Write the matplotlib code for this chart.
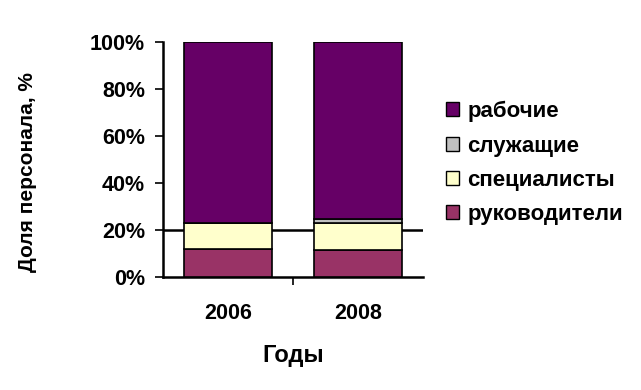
import matplotlib.pyplot as plt
import numpy as np
from matplotlib.patches import Patch
from matplotlib.transforms import Bbox, TransformedBbox

years = ["2006", "2008"]
series = ["руководители", "специалисты", "служащие", "рабочие"]
rukovod = [11.9, 11.4]
spec = [11.2, 11.4]
sluzh = [0.0, 1.7]
rabochie = [76.9, 75.5]
colors = ["#993366", "#FFFFCC", "#C0C0C0", "#660066"]
yticks = [0, 20, 40, 60, 80, 100]

plt.rcParams["font.family"] = ["Liberation Sans", "DejaVu Sans"]

fig = plt.figure(figsize=(6.41, 3.90), dpi=100)
ax = fig.add_axes([163 / 641, 1 - 277 / 390, 260 / 641, 235 / 390])

x = np.arange(len(years))
bottom = np.zeros(len(years))
for vals, c, name in zip([rukovod, spec, sluzh, rabochie], colors, series):
    ax.bar(x, vals, 0.67, bottom=bottom, color=c, edgecolor="black",
           linewidth=1.2, label=name, zorder=3)
    bottom += np.array(vals)

ax.axhline(20, color="black", linewidth=1.8, zorder=2)

ax.set_xlim(-0.5, 1.5)
ax.set_ylim(0, 100)
ax.set_yticks(yticks)
ax.set_yticklabels([f"{v}%" for v in yticks], fontsize=15.5, fontweight="bold")
ax.set_xticks([0.5])
ax.set_xticklabels([""])
ax.set_xticks(x, minor=True)
ax.set_xticklabels(years, minor=True, fontsize=15.5, fontweight="bold")
ax.tick_params(axis="x", which="minor", length=0, pad=19)
ax.tick_params(axis="x", which="major", length=6, width=1.2, direction="out")
ax.tick_params(axis="y", length=6, width=1.2, direction="out", pad=7)

for s in ["top", "right"]:
    ax.spines[s].set_visible(False)
for s in ["left", "bottom"]:
    ax.spines[s].set_linewidth(1.8)

ax.set_xlabel("Годы", fontsize=17, fontweight="bold", labelpad=14)

# y label is clipped on the left side like in the original
ylab = fig.text(37 / 641, 1 - 172 / 390, "Доля персонала, %", rotation=90,
                ha="right", va="center", fontsize=15, fontweight="bold")
ylab.set_clip_on(True)
ylab.set_clip_box(TransformedBbox(Bbox([[18 / 641, 0], [1, 1]]), fig.transFigure))

handles = [Patch(facecolor=c, edgecolor="black", linewidth=1) for c in colors][::-1]
fig.legend(handles, series[::-1], loc="upper left",
           bbox_to_anchor=(426 / 641, 1 - 81 / 390), frameon=False,
           prop={"size": 16, "weight": "bold"}, handlelength=0.6,
           handleheight=0.6, handletextpad=0.35, labelspacing=0.6)

fig.savefig("out.png", dpi=100)
